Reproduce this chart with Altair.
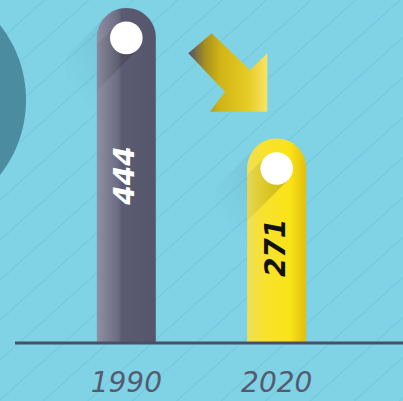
import altair as alt
import pandas as pd

# ---- data ----
years = ["1990", "2020"]
values = [444, 271]
label_pos = [222, 126]          # where the rotated number sits on the value axis
labels = ["444", "271"]

df = pd.DataFrame({"year": years, "value": values, "label_pos": label_pos, "label": labels})

# ---- layout ----
W, H = 403, 401
BASE_PX = 343
UNITS_PER_PX = 1.325
y_dom = [-(H - BASE_PX) * UNITS_PER_PX, BASE_PX * UNITS_PER_PX]

xs = alt.Scale(type="point", domain=years, padding=0.84)
ys = alt.Scale(domain=y_dom, nice=False, zero=False)
X = alt.X("year:O", scale=xs, axis=None)


def Y(f):
    return alt.Y(f + ":Q", scale=ys, axis=None)


one = pd.DataFrame({"k": [0]})


def grad(stops, x1=0, y1=0, x2=1, y2=0):
    return alt.Gradient(gradient="linear", x1=x1, y1=y1, x2=x2, y2=y2,
                        stops=[alt.GradientStop(offset=o, color=c) for o, c in stops])


def rgrad(stops, x1, y1, r2):
    return alt.RadialGradient(gradient="radial", x1=x1, y1=y1, r1=0, x2=x1, y2=y1, r2=r2,
                              stops=[alt.GradientStop(offset=o, color=c) for o, c in stops])


# background stripes (decoration)
segs = []
for c in range(-40, 820, 40):
    x1 = max(0.0, (c - H) / 0.9)
    x2 = min(float(W), c / 0.9)
    if x2 > x1:
        segs.append(f"M{x1:.1f},{c - 0.9 * x1:.1f}L{x2:.1f},{c - 0.9 * x2:.1f}")
stripes = alt.Chart(one).mark_point(
    shape="".join(segs), size=4, filled=False, stroke="#6ec4d8", strokeWidth=1.2, opacity=0.55
).encode(x=alt.value(0), y=alt.value(0))

big_circle = alt.Chart(one).mark_point(
    shape="M-121,0A121,121 0 1,0 121,0A121,121 0 1,0 -121,0Z", size=4, filled=True,
    strokeWidth=0, color="#4b8ca1", opacity=1
).encode(x=alt.value(-95), y=alt.value(100))

# long shadow to the left of each bar top
out_shadow_path = "M-20.9,8.6L-60,47.7L-60,130L-29.5,130L-29.5,29.5L-27.3,18.2Z"
out_shadow = alt.Chart(df).mark_point(
    shape=out_shadow_path, size=4, filled=True, strokeWidth=0, opacity=1,
    fill=rgrad([(0, "rgba(30,50,80,0.18)"), (0.4, "rgba(30,50,80,0.07)"), (0.85, "rgba(30,50,80,0)")],
               x1=1, y1=0.1, r2=0.95)
).encode(x=X, y=Y("value"))

bar_kw = dict(width=59, cornerRadiusTopLeft=29.5, cornerRadiusTopRight=29.5)
gray = grad([(0, "#8e8fa2"), (0.36, "#6c6d82"), (0.42, "#5b5c72"), (1, "#55566b")])
yellow = grad([(0, "#efdf58"), (0.3, "#f8e22c"), (0.72, "#fbe318"), (1, "#e0c00c")])

bar_a = alt.Chart(df).transform_filter(alt.datum.year == "1990").mark_bar(color=gray, **bar_kw).encode(
    x=X, y=Y("value"), y2=alt.datum(0))
bar_b = alt.Chart(df).transform_filter(alt.datum.year == "2020").mark_bar(color=yellow, **bar_kw).encode(
    x=X, y=Y("value"), y2=alt.datum(0))

# shadow of the white circle inside each bar
in_shadow = alt.Chart(df).mark_point(
    shape="M-11.5,18.5L11.5,41.5L-29.5,82.5L-29.5,36.5Z", size=4, filled=True, strokeWidth=0,
    fill=grad([(0, "rgba(0,0,0,0.04)"), (0.6, "rgba(0,0,0,0.14)"), (1, "rgba(0,0,0,0.18)")]), opacity=1
).encode(x=X, y=Y("value"))

dots = alt.Chart(df).mark_point(
    shape="M-16.3,0A16.3,16.3 0 1,0 16.3,0A16.3,16.3 0 1,0 -16.3,0Z", size=4, filled=True,
    strokeWidth=0, color="white", opacity=1, yOffset=30
).encode(x=X, y=Y("value"))

# arrow (decoration)
arrow_path = "M-16.3,-38.7L22,-2L39.3,-18.7L39.3,39.7L-18,39.7L-3,19.7L-39.7,-18.7Z"
arrow = alt.Chart(one).mark_point(
    shape=arrow_path, size=4, filled=True, strokeWidth=0, opacity=1,
    fill=grad([(0, "#4f5068"), (0.22, "#a8921e"), (0.4, "#d0b416"), (0.75, "#e6cb24"), (1, "#f8e462")])
).encode(x=alt.value(228), y=alt.value(72))

baseline = alt.Chart(one).transform_calculate(z="0").mark_rule(color="#4a4e66", strokeWidth=3).encode(
    x=alt.value(15), x2=alt.value(W), y=Y("z"))

nums = alt.Chart(df).mark_text(
    angle=270, font="DejaVu Sans", fontWeight="bold", fontStyle="italic", fontSize=28,
    align="center", baseline="middle"
).encode(
    x=X, y=Y("label_pos"), text="label:N",
    color=alt.condition(alt.datum.year == "1990", alt.value("white"), alt.value("#111111"))
)

year_labels = alt.Chart(df).mark_text(
    font="DejaVu Sans", fontStyle="italic", fontSize=28, color="#565a6f",
    align="center", baseline="middle"
).encode(x=X, y=alt.value(384), text="year:N")

chart = alt.layer(
    stripes, big_circle, out_shadow, bar_a, bar_b, in_shadow, dots, arrow, baseline, nums, year_labels
).properties(
    width=W, height=H, padding=0, autosize="none", background="#7fd3e5"
).configure_view(stroke="transparent")

chart.save("out.html", embed_options={"renderer": "svg", "actions": False})
